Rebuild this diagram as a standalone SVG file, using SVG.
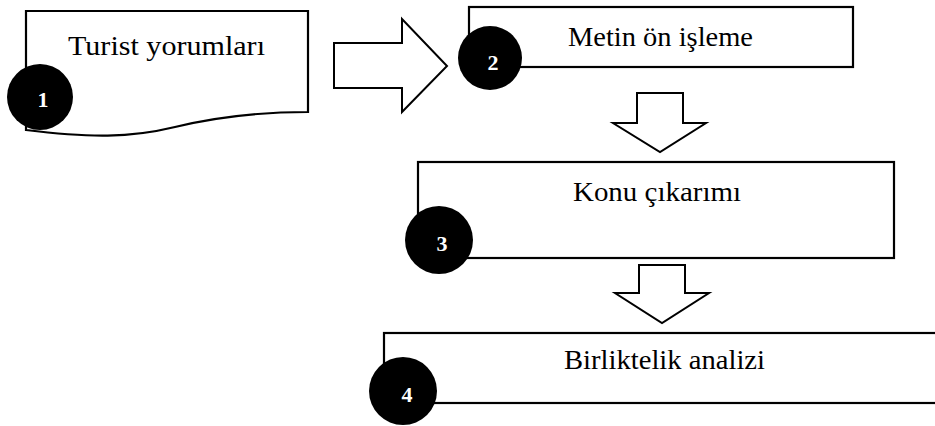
<svg xmlns="http://www.w3.org/2000/svg" width="935" height="426" viewBox="0 0 935 426">
<style>
.box{fill:#fff;stroke:#000;stroke-width:2.2}
.arr{fill:#fff;stroke:#000;stroke-width:2}
.dot{fill:#000}
.lbl{font-family:"Liberation Serif","Times New Roman",serif;font-size:26.5px;fill:#000;text-anchor:start}
.num{font-family:"Liberation Serif","Times New Roman",serif;font-size:22px;font-weight:bold;fill:#fff;text-anchor:middle}
</style>
<rect width="935" height="426" fill="#fff"/>
<g id="connectors">
<polygon class="arr" points="334,43 402,43 402,19 447,66 402,112 402,88 334,88"/>
<polygon class="arr" points="637,93 683,93 683,123 706,123 660,152 613,123 637,123"/>
<polygon class="arr" points="639,265 685,265 685,293 709,293 662,323 615,293 639,293"/>
</g>
<g id="node1">
<path class="box" d="M26,11 H308 V112 C265,112 220,116 175,127 C130,138 90,138 26,130 Z"/>
<text class="lbl" x="68" y="55" textLength="197" lengthAdjust="spacingAndGlyphs">Turist yorumları</text>
<circle class="dot" cx="40" cy="97" r="33"/>
<text class="num" x="43" y="107">1</text>
</g>
<g id="node2">
<rect class="box" x="469" y="7" width="384" height="60"/>
<text class="lbl" x="568" y="46" textLength="185" lengthAdjust="spacingAndGlyphs">Metin ön işleme</text>
<circle class="dot" cx="490" cy="58" r="32"/>
<text class="num" x="493" y="70">2</text>
</g>
<g id="node3">
<rect class="box" x="418" y="162" width="476" height="96"/>
<text class="lbl" x="573" y="201" textLength="168" lengthAdjust="spacingAndGlyphs">Konu çıkarımı</text>
<circle class="dot" cx="439" cy="240" r="34"/>
<text class="num" x="442" y="251">3</text>
</g>
<g id="node4">
<rect class="box" x="384" y="333" width="570" height="70"/>
<text class="lbl" x="564" y="369" textLength="201" lengthAdjust="spacingAndGlyphs">Birliktelik analizi</text>
<circle class="dot" cx="403" cy="391" r="34"/>
<text class="num" x="407" y="402">4</text>
</g>
</svg>
